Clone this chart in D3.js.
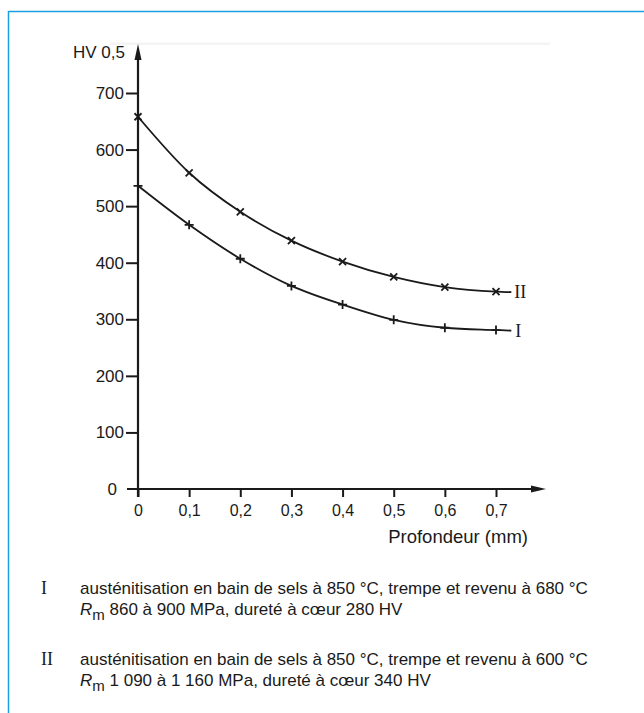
<!DOCTYPE html>
<html>
<head>
<meta charset="utf-8">
<script src="https://cdn.jsdelivr.net/npm/d3@7"></script>
<style>
  html, body { margin: 0; padding: 0; background: #fff; }
  svg { display: block; }
</style>
</head>
<body>
<svg id="chart" width="644" height="713"></svg>
<script>
// ---- data ----
const depths = [0, 0.1, 0.2, 0.3, 0.4, 0.5, 0.6, 0.7];
const seriesI = [536, 467, 407, 359, 326, 299, 285, 281];
const seriesII = [658, 559, 490, 439, 402, 375, 357, 349];
const tailDepth = 0.73;
const tailI = 280;
const tailII = 348;
const yTicks = [0, 100, 200, 300, 400, 500, 600, 700];
const xTicks = [0, 0.1, 0.2, 0.3, 0.4, 0.5, 0.6, 0.7];
const xTickLabels = ["0", "0,1", "0,2", "0,3", "0,4", "0,5", "0,6", "0,7"];
const yTitle = "HV 0,5";
const xTitle = "Profondeur (mm)";
const seriesNames = ["I", "II"];
const legendLine1 = [
  "austénitisation en bain de sels à 850 °C, trempe et revenu à 680 °C",
  "austénitisation en bain de sels à 850 °C, trempe et revenu à 600 °C"
];
const legendLine2 = [
  " 860 à 900 MPa, dureté à cœur 280 HV",
  " 1 090 à 1 160 MPa, dureté à cœur 340 HV"
];

const svg = d3.select("#chart");
const sans = "'Liberation Sans', Arial, Helvetica, sans-serif";
const serif = "'Liberation Serif', 'Times New Roman', serif";
const ink = "#1a1a1a";
const blue = "#1aa0e0";

// frame
svg.append("line").attr("x1", 8.5).attr("x2", 644).attr("y1", 11.5).attr("y2", 11.5)
  .attr("stroke", blue).attr("stroke-width", 1.5);
svg.append("line").attr("x1", 8.5).attr("x2", 8.5).attr("y1", 11).attr("y2", 713)
  .attr("stroke", blue).attr("stroke-width", 1.5);

// faint scan band
svg.append("rect").attr("x", 110).attr("y", 42.5).attr("width", 440).attr("height", 2.5)
  .attr("fill", "#f4f4f4");

const x = d3.scaleLinear().domain([0, 0.7]).range([138, 496]);
const y = d3.scaleLinear().domain([0, 700]).range([489, 93]);

// y axis
const yAxis = d3.axisLeft(y).tickValues(yTicks).tickSize(12).tickPadding(2).tickFormat(d => d);
const gy = svg.append("g").attr("transform", `translate(${x(0)},0)`).call(yAxis);
gy.select(".domain").remove();
gy.selectAll(".tick line").attr("stroke", ink).attr("stroke-width", 2);
gy.selectAll(".tick text").attr("font-family", sans).attr("font-size", 17).attr("fill", ink);
gy.selectAll(".tick").filter(d => d === 0).select("text").attr("x", -21);
gy.selectAll(".tick").filter(d => d === 0).select("line").remove();

// x axis
const xAxis = d3.axisBottom(x).tickValues(xTicks).tickSize(8).tickPadding(8)
  .tickFormat((d, i) => xTickLabels[i]);
const gx = svg.append("g").attr("transform", `translate(0,${y(0)})`).call(xAxis);
gx.select(".domain").remove();
gx.selectAll(".tick line").attr("stroke", ink).attr("stroke-width", 2);
gx.selectAll(".tick text").attr("font-family", sans).attr("font-size", 16).attr("fill", ink);

// axis lines with arrows
svg.append("line").attr("x1", x(0)).attr("x2", x(0)).attr("y1", y(0) + 8).attr("y2", 56)
  .attr("stroke", ink).attr("stroke-width", 2.2);
svg.append("path").attr("d", `M${x(0)},44 L${x(0) - 3.5},60 L${x(0) + 3.5},60 Z`).attr("fill", ink);
svg.append("line").attr("x1", 127).attr("x2", 535).attr("y1", y(0)).attr("y2", y(0))
  .attr("stroke", ink).attr("stroke-width", 2.2);
svg.append("path").attr("d", `M546,${y(0)} L531,${y(0) - 3.5} L531,${y(0) + 3.5} Z`).attr("fill", ink);

// titles
svg.append("text").attr("x", 125).attr("y", 58).attr("text-anchor", "end")
  .attr("font-family", sans).attr("font-size", 17).attr("fill", ink).text(yTitle);
svg.append("text").attr("x", 528).attr("y", 543).attr("text-anchor", "end")
  .attr("font-family", sans).attr("font-size", 18.5).attr("fill", ink).text(xTitle);

// curves
const line = d3.line().x(d => x(d[0])).y(d => y(d[1])).curve(d3.curveMonotoneX);
const dataI = depths.map((d, i) => [d, seriesI[i]]);
const dataII = depths.map((d, i) => [d, seriesII[i]]);
[[dataI, tailI], [dataII, tailII]].forEach(([pts, tail]) => {
  svg.append("path").datum(pts.concat([[tailDepth, tail]])).attr("d", line)
    .attr("fill", "none").attr("stroke", ink).attr("stroke-width", 1.8);
});

// markers
const s = 4.5;
svg.append("g").selectAll("path").data(dataI).join("path")
  .attr("d", d => `M${x(d[0]) - s},${y(d[1])} H${x(d[0]) + s} M${x(d[0])},${y(d[1]) - s} V${y(d[1]) + s}`)
  .attr("stroke", ink).attr("stroke-width", 1.8);
const t = 3.5;
svg.append("g").selectAll("path").data(dataII).join("path")
  .attr("d", d => `M${x(d[0]) - t},${y(d[1]) - t} L${x(d[0]) + t},${y(d[1]) + t} M${x(d[0]) - t},${y(d[1]) + t} L${x(d[0]) + t},${y(d[1]) - t}`)
  .attr("stroke", ink).attr("stroke-width", 1.8);

// series labels
svg.append("text").attr("x", x(tailDepth) + 4).attr("y", y(tailI) + 6)
  .attr("font-family", serif).attr("font-size", 18).attr("fill", ink).text(seriesNames[0]);
svg.append("text").attr("x", x(tailDepth) + 3).attr("y", y(tailII) + 6)
  .attr("font-family", serif).attr("font-size", 18).attr("fill", ink).text(seriesNames[1]);

// legend
const legY = [594, 665];
seriesNames.forEach((nm, i) => {
  const g = svg.append("g");
  g.append("text").attr("x", 41).attr("y", legY[i]).attr("font-family", serif)
    .attr("font-size", 18).attr("fill", ink).text(nm);
  g.append("text").attr("x", 80).attr("y", legY[i]).attr("font-family", sans)
    .attr("font-size", 17).attr("fill", ink).text(legendLine1[i]);
  const t2 = g.append("text").attr("x", 80).attr("y", legY[i] + 21).attr("font-family", sans)
    .attr("font-size", 17).attr("fill", ink);
  t2.append("tspan").attr("font-style", "italic").text("R");
  t2.append("tspan").attr("dy", 5).attr("font-size", 15).text("m");
  t2.append("tspan").attr("dy", -5).text(legendLine2[i]);
});
</script>
</body>
</html>
